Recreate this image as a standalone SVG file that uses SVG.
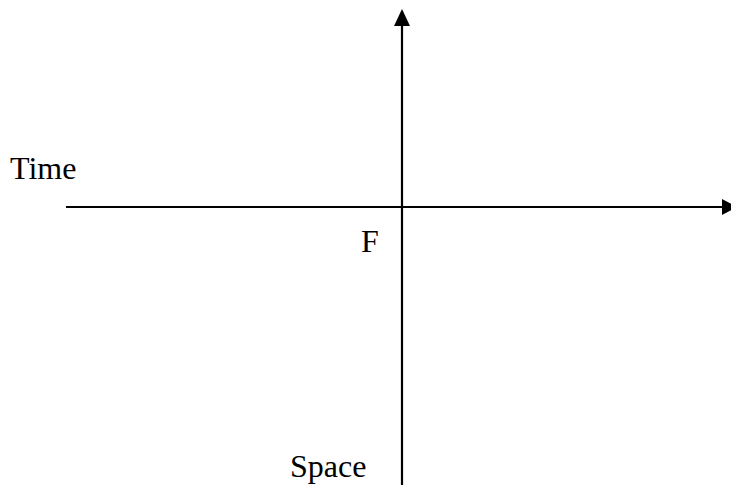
<svg xmlns="http://www.w3.org/2000/svg" width="731" height="487" viewBox="0 0 731 487">
<style>
.ax{stroke:#000;stroke-width:2.2;fill:none}
.hd{fill:#000}
.t{font-family:"Liberation Serif","Times New Roman",serif;font-size:32px;fill:#000}
</style>
<rect width="731" height="487" fill="#fff"/>
<g id="connectors">
<line class="ax" x1="66" y1="207" x2="724" y2="207"/>
<polygon class="hd" points="722,199 737,207 722,215"/>
<line class="ax" x1="402" y1="485" x2="402" y2="24"/>
<polygon class="hd" points="394,26 402,9 410,26"/>
</g>
<g id="time"><text class="t" x="10" y="179">Time</text></g>
<g id="f"><text class="t" x="361" y="252">F</text></g>
<g id="space"><text class="t" x="290" y="477">Space</text></g>
</svg>
